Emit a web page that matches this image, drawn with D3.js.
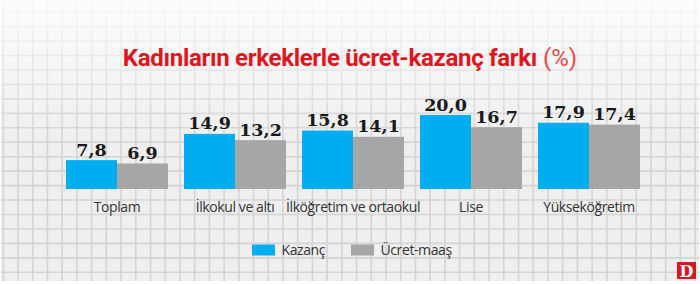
<!DOCTYPE html>
<html><head><meta charset="utf-8">
<script src="https://cdn.jsdelivr.net/npm/d3@7"></script>
<style>html,body{margin:0;padding:0;background:#fff;}svg{display:block;}</style>
</head><body>
<svg id="c" width="700" height="284"></svg>
<script>
const categories = ["Toplam", "İlkokul ve altı", "İlköğretim ve ortaokul", "Lise", "Yükseköğretim"];
const seriesNames = ["Kazanç", "Ücret-maaş"];
const kazanc = [7.8, 14.9, 15.8, 20.0, 17.9];
const ucretMaas = [6.9, 13.2, 14.1, 16.7, 17.4];
const colors = ["#00aeef", "#a6a6a6"];
const title = "Kadınların erkeklerle ücret-kazanç farkı";
const titleUnit = " (%)";

const svg = d3.select("#c");
const W = 700, H = 284;

// background
const defs = svg.append("defs");
const g1 = defs.append("linearGradient").attr("id","fade").attr("x1",0).attr("y1",0).attr("x2",0).attr("y2",1);
g1.append("stop").attr("offset","0%").attr("stop-color","#fff").attr("stop-opacity",0.85);
g1.append("stop").attr("offset","20%").attr("stop-color","#fff").attr("stop-opacity",0.5);
g1.append("stop").attr("offset","50%").attr("stop-color","#fff").attr("stop-opacity",0.0);
g1.append("stop").attr("offset","100%").attr("stop-color","#fff").attr("stop-opacity",0);

svg.append("rect").attr("x",1).attr("y",1).attr("width",W-2).attr("height",H-4).attr("fill","#efefef");
const grid = svg.append("g").attr("stroke","#d4d4d4").attr("stroke-width",1.6);
d3.range(0,48).forEach(k=>{
  const x = 3.3 + 14.72*k;
  if (x < W) grid.append("line").attr("x1",x).attr("x2",x).attr("y1",1).attr("y2",H-3);
});
d3.range(0,20).forEach(k=>{
  const y = 272.3 - 14.45*k;
  if (y > 0) grid.append("line").attr("x1",1).attr("x2",W-1).attr("y1",y).attr("y2",y);
});
svg.append("rect").attr("x",0).attr("y",0).attr("width",W).attr("height",H).attr("fill","url(#fade)");
svg.append("rect").attr("x",0).attr("y",H-3).attr("width",W).attr("height",3).attr("fill","#fff");

// title
const t = svg.append("text").attr("x",350).attr("y",66).attr("text-anchor","middle")
  .attr("font-family","'Liberation Sans Narrow','Roboto',sans-serif").attr("font-size",24);
t.append("tspan").attr("font-weight","bold").attr("fill","#e0161e").attr("letter-spacing","-0.3").text(title);
t.append("tspan").attr("fill","#e8474c").text(titleUnit);

// scales
const x0 = d3.scaleBand().domain(categories).range([58,648]).paddingInner(16/118).paddingOuter(8/118);
const x1 = d3.scaleBand().domain(seriesNames).range([0,x0.bandwidth()]);
const y = d3.scaleLinear().domain([0,20]).range([189,115]);

const data = categories.map((c,i)=>({cat:c, vals:[kazanc[i], ucretMaas[i]]}));
const groups = svg.selectAll("g.grp").data(data).enter().append("g").attr("class","grp")
  .attr("transform",d=>`translate(${x0(d.cat)},0)`);
groups.selectAll("rect").data(d=>d.vals.map((v,j)=>({v,s:seriesNames[j],j}))).enter().append("rect")
  .attr("x",d=>x1(d.s)).attr("width",x1.bandwidth()).attr("y",d=>y(d.v)).attr("height",d=>y(0)-y(d.v))
  .attr("fill",d=>colors[d.j]);
groups.selectAll("text.val").data(d=>d.vals.map((v,j)=>({v,s:seriesNames[j],j}))).enter().append("text")
  .attr("class","val").attr("x",d=>x1(d.s)+x1.bandwidth()/2).attr("y",d=>y(d.v)-4.5)
  .attr("text-anchor","middle").attr("font-family","'DejaVu Serif',serif").attr("font-weight","bold")
  .attr("font-size",17.5).attr("fill","#1a1a1a")
  .text(d=>d3.format(".1f")(d.v).replace(".",","));

// x axis labels
const xAxis = d3.axisBottom(x0).tickSize(0).tickPadding(0);
const ax = svg.append("g").attr("transform","translate(0,202)").call(xAxis);
ax.select(".domain").remove();
ax.selectAll("text").attr("font-family","'Open Sans',sans-serif").attr("font-size",14)
  .attr("fill","#333").attr("letter-spacing","-0.4").attr("dy","0.71em");

// legend
const leg = svg.append("g");
const legX = [252, 351];
seriesNames.forEach((s,i)=>{
  leg.append("rect").attr("x",legX[i]).attr("y",244.5).attr("width",23).attr("height",11).attr("fill",colors[i]);
  leg.append("text").attr("x",legX[i]+29.5).attr("y",255).attr("font-family","'Open Sans',sans-serif")
    .attr("font-size",14).attr("fill","#333").attr("letter-spacing","-0.4").text(s);
});

// logo
svg.append("rect").attr("x",677).attr("y",262).attr("width",19).attr("height",17).attr("fill","#d7191f");
svg.append("text").attr("x",686.5).attr("y",276.5).attr("text-anchor","middle").attr("font-family","'DejaVu Serif',serif")
  .attr("font-weight","bold").attr("font-size",16).attr("fill","#fff").text("D");
</script>
</body></html>
